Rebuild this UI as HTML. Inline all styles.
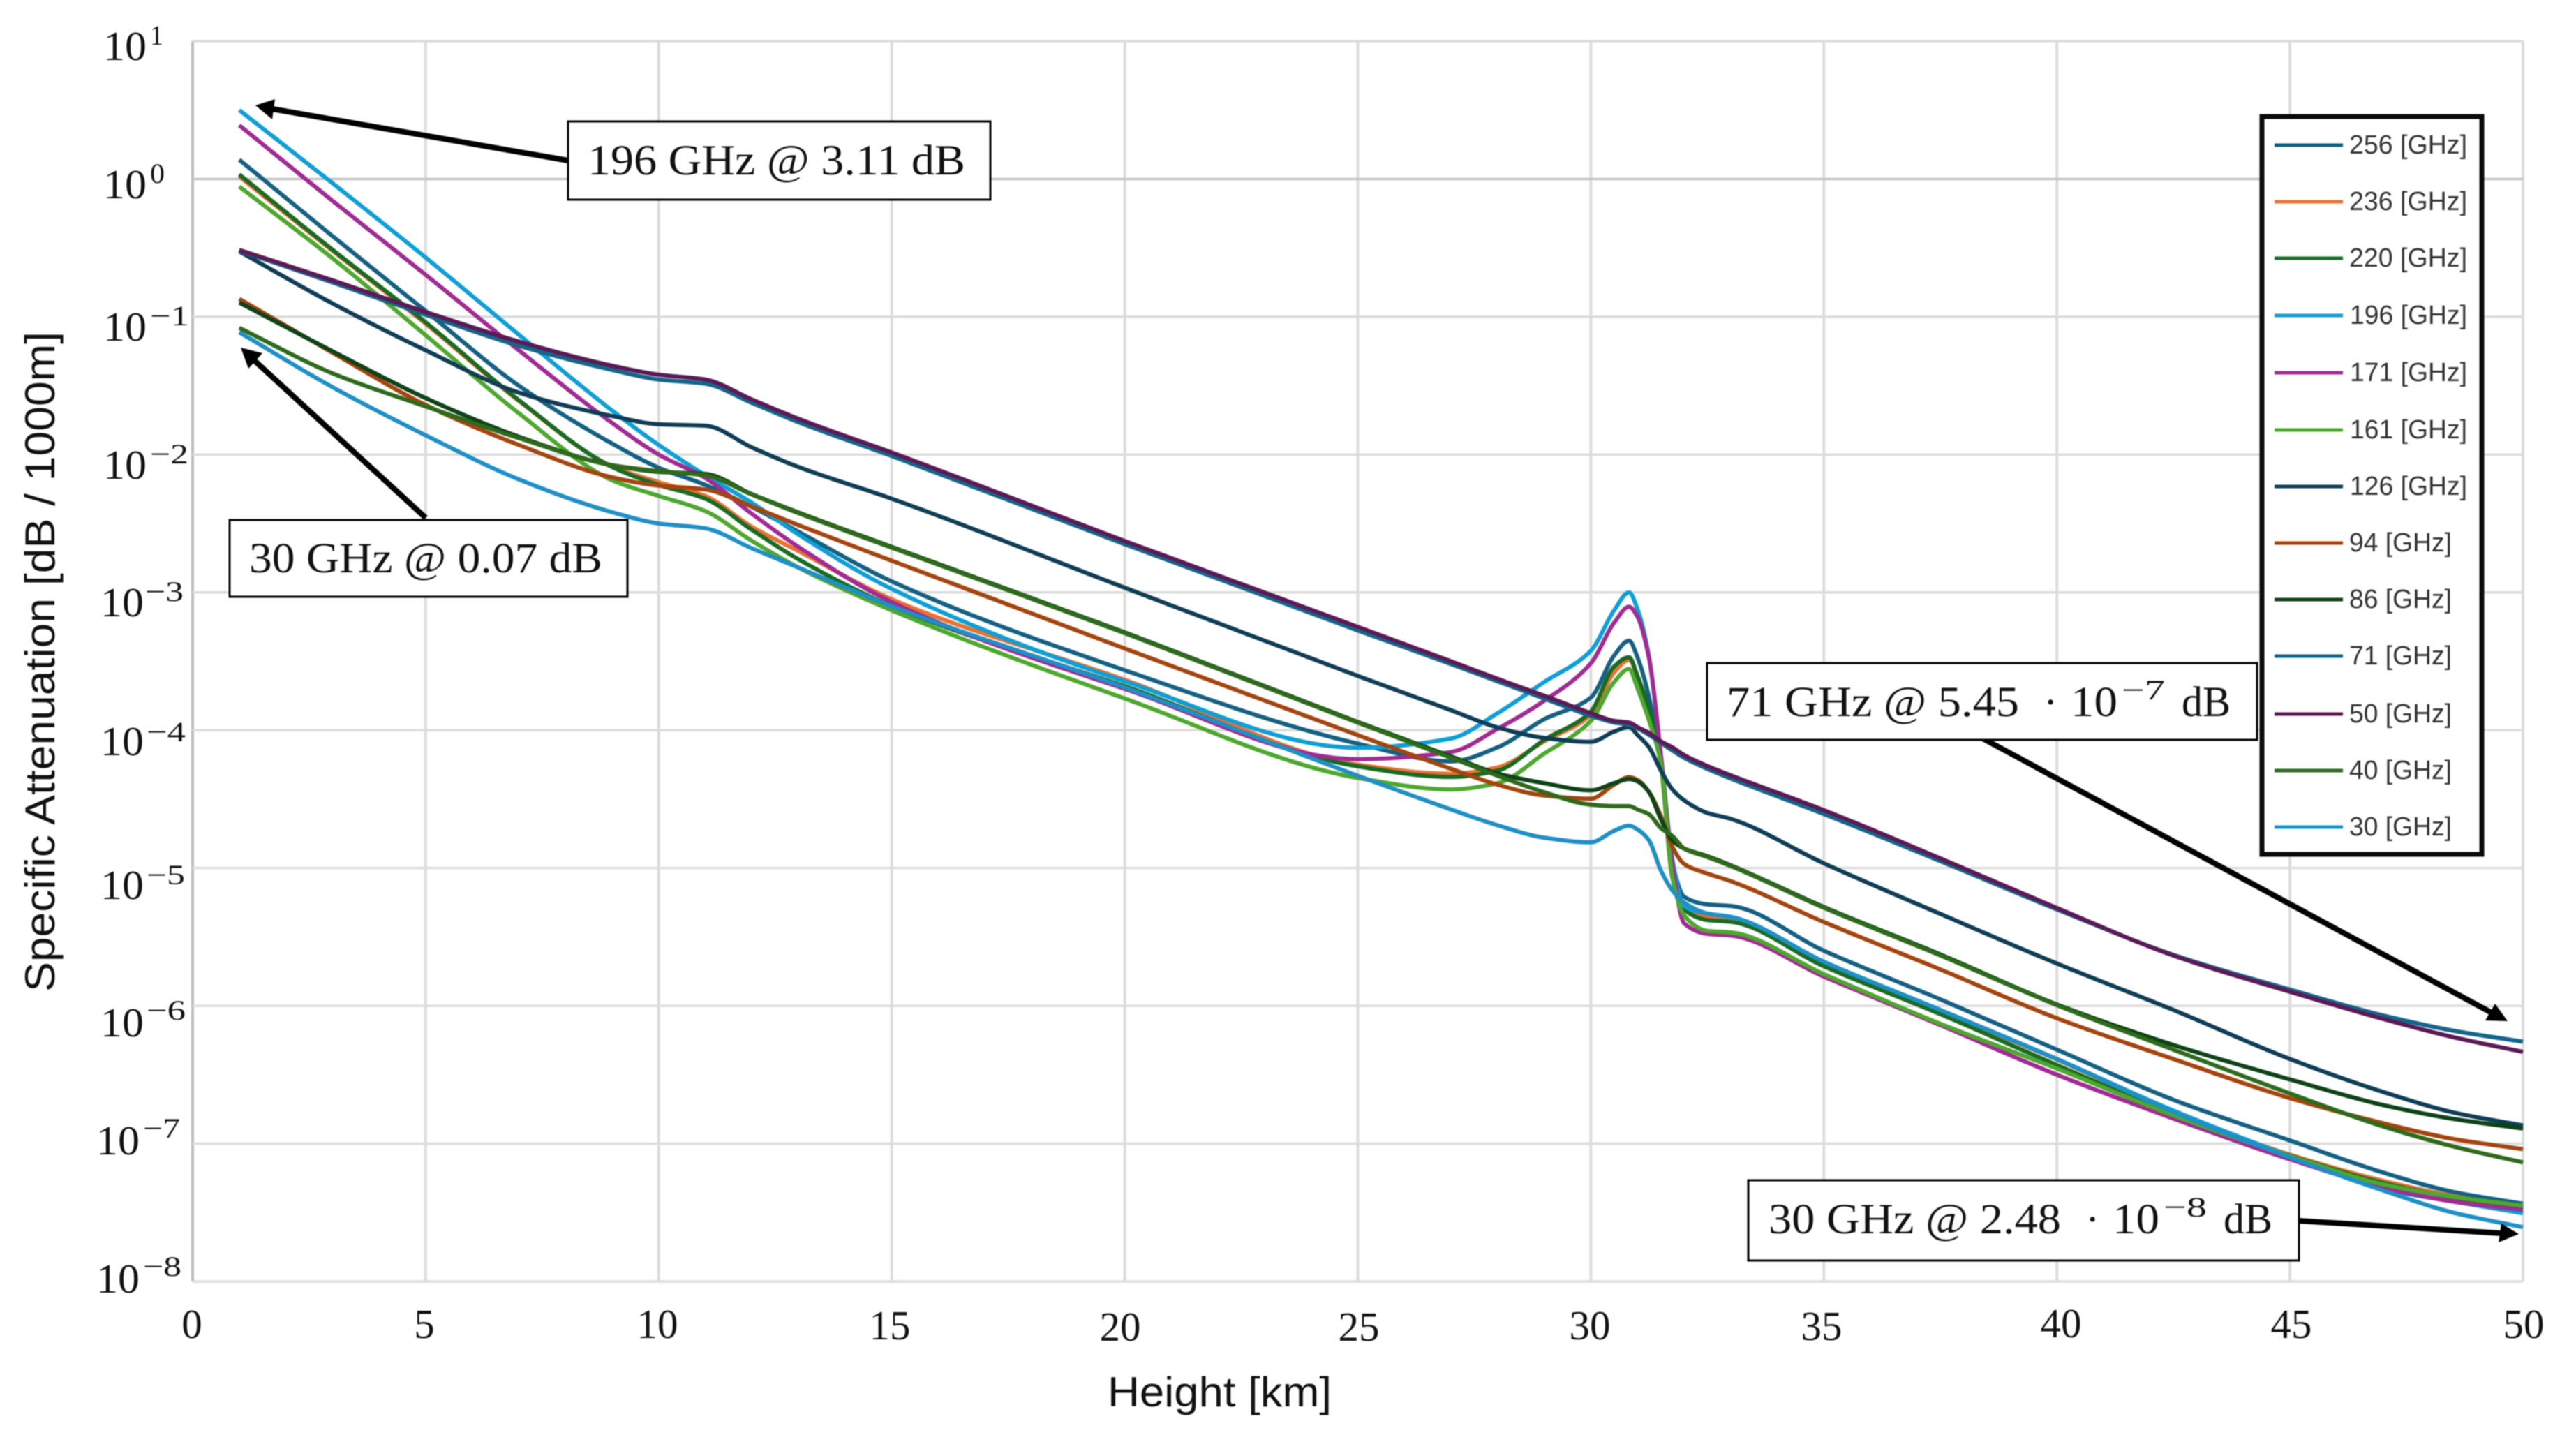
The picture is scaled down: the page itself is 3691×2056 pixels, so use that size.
<!DOCTYPE html>
<html lang="en">
<head>
<meta charset="utf-8">
<title>Specific Attenuation vs Height</title>
<style>
  html, body { margin: 0; padding: 0; background: #fff; }
  svg { display: block; filter: blur(0.8px); }
  .tick { font-family: "Liberation Serif", serif; font-size: 59px; fill: #111; }
  .sup { font-family: "Liberation Serif", serif; font-size: 40px; fill: #111; }
  .title { font-family: "Liberation Sans", sans-serif; font-size: 60px; fill: #111; }
  .note { font-family: "Liberation Serif", serif; font-size: 61px; fill: #111; }
  .note-sup { font-family: "Liberation Serif", serif; font-size: 40px; fill: #111; }
  .legend-label { font-family: "Liberation Sans", sans-serif; font-size: 38px; fill: #333; }
</style>
</head>
<body>
<svg id="chart" xmlns="http://www.w3.org/2000/svg" width="3691" height="2056" viewBox="0 0 3691 2056">
  <rect x="0" y="0" width="3691" height="2056" fill="#ffffff"/>
  <g id="grid"></g>
  <g id="series"></g>

  <!-- y axis tick labels -->
  <g>
    <text class="tick" x="148" y="86" textLength="62" lengthAdjust="spacingAndGlyphs">10</text>
    <text class="sup" x="215" y="64" textLength="19" lengthAdjust="spacingAndGlyphs">1</text>
    <text class="tick" x="148" y="284" textLength="62" lengthAdjust="spacingAndGlyphs">10</text>
    <text class="sup" x="215" y="262" textLength="21" lengthAdjust="spacingAndGlyphs">0</text>
    <text class="tick" x="148" y="488" textLength="62" lengthAdjust="spacingAndGlyphs">10</text>
    <text class="sup" x="215" y="466" textLength="56" lengthAdjust="spacingAndGlyphs">−1</text>
    <text class="tick" x="148" y="686" textLength="62" lengthAdjust="spacingAndGlyphs">10</text>
    <text class="sup" x="215" y="664" textLength="55" lengthAdjust="spacingAndGlyphs">−2</text>
    <text class="tick" x="144" y="883" textLength="62" lengthAdjust="spacingAndGlyphs">10</text>
    <text class="sup" x="208" y="861" textLength="55" lengthAdjust="spacingAndGlyphs">−3</text>
    <text class="tick" x="144" y="1082" textLength="62" lengthAdjust="spacingAndGlyphs">10</text>
    <text class="sup" x="210" y="1062" textLength="56" lengthAdjust="spacingAndGlyphs">−4</text>
    <text class="tick" x="144" y="1288" textLength="62" lengthAdjust="spacingAndGlyphs">10</text>
    <text class="sup" x="210" y="1267" textLength="55" lengthAdjust="spacingAndGlyphs">−5</text>
    <text class="tick" x="144" y="1485" textLength="62" lengthAdjust="spacingAndGlyphs">10</text>
    <text class="sup" x="210" y="1461" textLength="56" lengthAdjust="spacingAndGlyphs">−6</text>
    <text class="tick" x="138" y="1654" textLength="62" lengthAdjust="spacingAndGlyphs">10</text>
    <text class="sup" x="205" y="1630" textLength="53" lengthAdjust="spacingAndGlyphs">−7</text>
    <text class="tick" x="138" y="1852" textLength="62" lengthAdjust="spacingAndGlyphs">10</text>
    <text class="sup" x="205" y="1828" textLength="55" lengthAdjust="spacingAndGlyphs">−8</text>
  </g>

  <!-- x axis tick labels -->
  <g text-anchor="middle">
    <text class="tick" x="275" y="1917">0</text>
    <text class="tick" x="608" y="1917">5</text>
    <text class="tick" x="942" y="1917">10</text>
    <text class="tick" x="1275" y="1919">15</text>
    <text class="tick" x="1605" y="1921">20</text>
    <text class="tick" x="1947" y="1921">25</text>
    <text class="tick" x="2278" y="1919">30</text>
    <text class="tick" x="2610" y="1920">35</text>
    <text class="tick" x="2953" y="1916">40</text>
    <text class="tick" x="3283" y="1917">45</text>
    <text class="tick" x="3616" y="1917">50</text>
  </g>

  <!-- axis titles -->
  <text class="title" x="1587" y="2015" textLength="321" lengthAdjust="spacingAndGlyphs">Height [km]</text>
  <text class="title" transform="translate(78 1421) rotate(-90)" x="0" y="0" textLength="946" lengthAdjust="spacingAndGlyphs">Specific Attenuation [dB / 1000m]</text>

  <!-- annotation arrows -->
  <g>
    <line x1="814" y1="230" x2="390" y2="156" stroke="#000" stroke-width="8"/>
    <polygon points="366,151 394,142 390,171" fill="#000"/>
    <line x1="610" y1="742" x2="364" y2="516" stroke="#000" stroke-width="8"/>
    <polygon points="345,498 376,506 356,528" fill="#000"/>
    <line x1="2841" y1="1058" x2="3570" y2="1451" stroke="#000" stroke-width="8"/>
    <polygon points="3593,1463 3575,1438 3561,1462" fill="#000"/>
    <line x1="3294" y1="1749" x2="3584" y2="1767" stroke="#000" stroke-width="8"/>
    <polygon points="3609,1768 3584,1753 3580,1780" fill="#000"/>
  </g>

  <!-- annotation boxes -->
  <g>
    <rect x="814" y="174" width="605" height="112" fill="#fff" stroke="#000" stroke-width="3"/>
    <text class="note" x="842" y="250" textLength="541" lengthAdjust="spacingAndGlyphs">196 GHz @ 3.11 dB</text>
  </g>
  <g>
    <rect x="329" y="745" width="570" height="110" fill="#fff" stroke="#000" stroke-width="3"/>
    <text class="note" x="357" y="820" textLength="506" lengthAdjust="spacingAndGlyphs">30 GHz @ 0.07 dB</text>
  </g>
  <g>
    <rect x="2446" y="950" width="788" height="110" fill="#fff" stroke="#000" stroke-width="3"/>
    <text class="note" x="2474" y="1026" textLength="419" lengthAdjust="spacingAndGlyphs">71 GHz @ 5.45</text>
    <text class="note" x="2928" y="1026">·</text>
    <text class="note" x="2967" y="1026" textLength="67" lengthAdjust="spacingAndGlyphs">10</text>
    <text class="note-sup" x="3040" y="1002" textLength="62" lengthAdjust="spacingAndGlyphs">−7</text>
    <text class="note" x="3126" y="1026" textLength="70" lengthAdjust="spacingAndGlyphs">dB</text>
  </g>
  <g>
    <rect x="2505" y="1691" width="789" height="115" fill="#fff" stroke="#000" stroke-width="3"/>
    <text class="note" x="2534" y="1767" textLength="419" lengthAdjust="spacingAndGlyphs">30 GHz @ 2.48</text>
    <text class="note" x="2988" y="1767">·</text>
    <text class="note" x="3027" y="1767" textLength="67" lengthAdjust="spacingAndGlyphs">10</text>
    <text class="note-sup" x="3100" y="1743" textLength="62" lengthAdjust="spacingAndGlyphs">−8</text>
    <text class="note" x="3186" y="1767" textLength="70" lengthAdjust="spacingAndGlyphs">dB</text>
  </g>

  <!-- legend -->
  <g>
    <rect x="3241" y="167" width="315" height="1057" fill="#fff" stroke="#0a0a0a" stroke-width="7"/>
    <g><line x1="3259" x2="3357" y1="208" y2="208" stroke="#156082" stroke-width="5"/><text class="legend-label" x="3366" y="220" textLength="169" lengthAdjust="spacingAndGlyphs">256 [GHz]</text></g>
    <g><line x1="3259" x2="3357" y1="289" y2="289" stroke="#E97132" stroke-width="5"/><text class="legend-label" x="3366" y="301" textLength="169" lengthAdjust="spacingAndGlyphs">236 [GHz]</text></g>
    <g><line x1="3259" x2="3357" y1="370" y2="370" stroke="#196B24" stroke-width="5"/><text class="legend-label" x="3366" y="382" textLength="169" lengthAdjust="spacingAndGlyphs">220 [GHz]</text></g>
    <g><line x1="3259" x2="3357" y1="452" y2="452" stroke="#0F9ED5" stroke-width="5"/><text class="legend-label" x="3367" y="464" textLength="168" lengthAdjust="spacingAndGlyphs">196 [GHz]</text></g>
    <g><line x1="3259" x2="3357" y1="534" y2="534" stroke="#A02B93" stroke-width="5"/><text class="legend-label" x="3367" y="546" textLength="168" lengthAdjust="spacingAndGlyphs">171 [GHz]</text></g>
    <g><line x1="3259" x2="3357" y1="616" y2="616" stroke="#4EA72E" stroke-width="5"/><text class="legend-label" x="3367" y="628" textLength="168" lengthAdjust="spacingAndGlyphs">161 [GHz]</text></g>
    <g><line x1="3259" x2="3357" y1="697" y2="697" stroke="#0F3D56" stroke-width="5"/><text class="legend-label" x="3367" y="709" textLength="168" lengthAdjust="spacingAndGlyphs">126 [GHz]</text></g>
    <g><line x1="3259" x2="3357" y1="778" y2="778" stroke="#A3450F" stroke-width="5"/><text class="legend-label" x="3366" y="790" textLength="147" lengthAdjust="spacingAndGlyphs">94 [GHz]</text></g>
    <g><line x1="3259" x2="3357" y1="859" y2="859" stroke="#0E4217" stroke-width="5"/><text class="legend-label" x="3366" y="871" textLength="147" lengthAdjust="spacingAndGlyphs">86 [GHz]</text></g>
    <g><line x1="3259" x2="3357" y1="940" y2="940" stroke="#156489" stroke-width="5"/><text class="legend-label" x="3366" y="952" textLength="147" lengthAdjust="spacingAndGlyphs">71 [GHz]</text></g>
    <g><line x1="3259" x2="3357" y1="1023" y2="1023" stroke="#5B1A55" stroke-width="5"/><text class="legend-label" x="3366" y="1035" textLength="147" lengthAdjust="spacingAndGlyphs">50 [GHz]</text></g>
    <g><line x1="3259" x2="3357" y1="1104" y2="1104" stroke="#2E6A1B" stroke-width="5"/><text class="legend-label" x="3366" y="1116" textLength="147" lengthAdjust="spacingAndGlyphs">40 [GHz]</text></g>
    <g><line x1="3259" x2="3357" y1="1185" y2="1185" stroke="#1F8FC6" stroke-width="5"/><text class="legend-label" x="3366" y="1197" textLength="147" lengthAdjust="spacingAndGlyphs">30 [GHz]</text></g>
  </g>
</svg>

<script>
// Axis ticks
const xTicks = [0, 5, 10, 15, 20, 25, 30, 35, 40, 45, 50];
const yTickExponents = [1, 0, -1, -2, -3, -4, -5, -6, -7, -8];

// Sample heights in km
const heightKm = [1, 3, 5, 7, 9, 10, 11, 12, 13, 15, 20, 25, 27, 28, 29, 30, 30.5, 30.82, 31, 31.25, 31.5, 31.75, 32, 32.5, 33, 35, 37.5, 40, 42.5, 45, 47, 48.5, 50];

// Series values: log10 of specific attenuation in dB / 1000 m
const atten256 = [0.14, -0.414, -0.958, -1.5, -1.92, -2.095, -2.22, -2.38, -2.56, -2.92, -3.565, -4.097, -4.226, -4.124, -3.92, -3.763, -3.458, -3.35, -3.47, -3.763, -4.237, -4.96, -5.208, -5.264, -5.275, -5.6, -5.953, -6.318, -6.682, -6.977, -7.21, -7.35, -7.436];
const atten236 = [0.018, -0.52, -1.05, -1.61, -2.085, -2.2, -2.3, -2.524, -2.7, -3.05, -3.634, -4.25, -4.316, -4.27, -4.08, -3.887, -3.58, -3.49, -3.605, -3.876, -4.237, -5.05, -5.264, -5.354, -5.366, -5.69, -6.04, -6.39, -6.77, -7.08, -7.27, -7.38, -7.466];
const atten220 = [0.033, -0.513, -1.04, -1.605, -2.09, -2.22, -2.32, -2.546, -2.76, -3.1, -3.68, -4.262, -4.339, -4.293, -4.07, -3.865, -3.537, -3.47, -3.605, -3.853, -4.237, -5.07, -5.3, -5.377, -5.39, -5.713, -6.06, -6.43, -6.784, -7.086, -7.285, -7.39, -7.46];
const atten196 = [0.5, -0.03, -0.57, -1.13, -1.68, -1.93, -2.15, -2.35, -2.58, -2.975, -3.645, -4.127, -4.06, -3.876, -3.65, -3.424, -3.13, -3.0, -3.12, -3.47, -4.17, -4.937, -5.275, -5.33, -5.354, -5.68, -6.03, -6.386, -6.76, -7.09, -7.33, -7.42, -7.505];
const atten171 = [0.39, -0.158, -0.695, -1.243, -1.77, -2.0, -2.17, -2.43, -2.67, -3.07, -3.7, -4.21, -4.158, -3.99, -3.786, -3.515, -3.22, -3.104, -3.176, -3.48, -4.17, -4.97, -5.4, -5.478, -5.49, -5.788, -6.14, -6.5, -6.818, -7.114, -7.318, -7.42, -7.48];
const atten161 = [-0.055, -0.575, -1.134, -1.7, -2.186, -2.3, -2.41, -2.626, -2.82, -3.13, -3.77, -4.346, -4.43, -4.384, -4.17, -3.932, -3.65, -3.555, -3.695, -3.93, -4.237, -5.07, -5.343, -5.456, -5.467, -5.77, -6.13, -6.455, -6.795, -7.09, -7.295, -7.386, -7.45];
const atten126 = [-0.525, -0.903, -1.243, -1.55, -1.72, -1.78, -1.79, -1.948, -2.09, -2.32, -2.966, -3.606, -3.855, -3.98, -4.056, -4.084, -4.01, -3.977, -4.034, -4.124, -4.29, -4.43, -4.508, -4.6, -4.643, -4.966, -5.333, -5.693, -6.03, -6.386, -6.625, -6.773, -6.868];
const atten94 = [-0.87, -1.26, -1.64, -1.93, -2.165, -2.225, -2.253, -2.377, -2.512, -2.77, -3.407, -4.036, -4.28, -4.395, -4.474, -4.497, -4.395, -4.34, -4.36, -4.45, -4.62, -4.846, -4.97, -5.04, -5.095, -5.392, -5.736, -6.09, -6.386, -6.67, -6.852, -6.966, -7.04];
const atten86 = [-0.897, -1.25, -1.59, -1.87, -2.077, -2.125, -2.14, -2.287, -2.42, -2.67, -3.29, -3.94, -4.19, -4.314, -4.384, -4.436, -4.384, -4.354, -4.37, -4.45, -4.643, -4.8, -4.858, -4.914, -4.98, -5.283, -5.627, -5.99, -6.284, -6.534, -6.72, -6.82, -6.89];
const atten71 = [-0.52, -0.75, -0.985, -1.21, -1.385, -1.455, -1.485, -1.625, -1.765, -2.01, -2.65, -3.276, -3.52, -3.645, -3.77, -3.895, -3.944, -3.96, -3.985, -4.034, -4.09, -4.147, -4.2, -4.28, -4.35, -4.608, -4.95, -5.3, -5.63, -5.882, -6.07, -6.18, -6.26];
const atten50 = [-0.515, -0.735, -0.965, -1.18, -1.355, -1.42, -1.455, -1.6, -1.74, -1.985, -2.627, -3.25, -3.5, -3.627, -3.75, -3.876, -3.932, -3.944, -3.977, -4.02, -4.08, -4.124, -4.18, -4.26, -4.327, -4.58, -4.93, -5.29, -5.635, -5.898, -6.095, -6.227, -6.334];
const atten40 = [-1.08, -1.41, -1.65, -1.88, -2.077, -2.12, -2.15, -2.29, -2.425, -2.675, -3.295, -3.945, -4.2, -4.33, -4.45, -4.54, -4.55, -4.55, -4.575, -4.61, -4.71, -4.767, -4.858, -4.92, -4.985, -5.288, -5.634, -5.995, -6.318, -6.636, -6.875, -7.02, -7.136];
const atten30 = [-1.112, -1.51, -1.86, -2.18, -2.418, -2.5, -2.535, -2.68, -2.82, -3.1, -3.69, -4.33, -4.575, -4.69, -4.78, -4.813, -4.73, -4.693, -4.72, -4.8, -5.016, -5.163, -5.25, -5.33, -5.354, -5.68, -6.03, -6.386, -6.77, -7.1, -7.34, -7.5, -7.606];

const seriesNames = ['256', '236', '220', '196', '171', '161', '126', '94', '86', '71', '50', '40', '30'];
const seriesValues = [atten256, atten236, atten220, atten196, atten171, atten161, atten126, atten94, atten86, atten71, atten50, atten40, atten30];
const seriesColors = ['#156082', '#E97132', '#196B24', '#0F9ED5', '#A02B93', '#4EA72E', '#0F3D56', '#A3450F', '#0E4217', '#156489', '#5B1A55', '#2E6A1B', '#1F8FC6'];

const SVG_NS = 'http://www.w3.org/2000/svg';
const plot = { left: 276, right: 3615, top: 59, bottom: 1836 };
const xDomain = [0, 50];
const yDomain = [1, -8];

function xScale(km) {
  return plot.left + (km - xDomain[0]) / (xDomain[1] - xDomain[0]) * (plot.right - plot.left);
}
function yScale(logValue) {
  return plot.top + (logValue - yDomain[0]) / (yDomain[1] - yDomain[0]) * (plot.bottom - plot.top);
}

// Monotone cubic path through the points, so sharp features do not overshoot
function monotonePath(xs, ys) {
  const n = xs.length;
  const slopes = [];
  for (let i = 0; i < n - 1; i++) {
    slopes.push((ys[i + 1] - ys[i]) / (xs[i + 1] - xs[i]));
  }
  const tangents = [slopes[0]];
  for (let i = 1; i < n - 1; i++) {
    if (slopes[i - 1] * slopes[i] <= 0) {
      tangents.push(0);
    } else {
      const h0 = xs[i] - xs[i - 1];
      const h1 = xs[i + 1] - xs[i];
      const w0 = 2 * h1 + h0;
      const w1 = h1 + 2 * h0;
      tangents.push((w0 + w1) / (w0 / slopes[i - 1] + w1 / slopes[i]));
    }
  }
  tangents.push(slopes[n - 2]);
  let d = 'M' + xs[0].toFixed(2) + ' ' + ys[0].toFixed(2);
  for (let i = 0; i < n - 1; i++) {
    const h = (xs[i + 1] - xs[i]) / 3;
    d += 'C' + (xs[i] + h).toFixed(2) + ' ' + (ys[i] + tangents[i] * h).toFixed(2) + ' ' +
      (xs[i + 1] - h).toFixed(2) + ' ' + (ys[i + 1] - tangents[i + 1] * h).toFixed(2) + ' ' +
      xs[i + 1].toFixed(2) + ' ' + ys[i + 1].toFixed(2);
  }
  return d;
}

const gridGroup = document.getElementById('grid');
xTicks.forEach(function (tick) {
  const line = document.createElementNS(SVG_NS, 'line');
  
  
  line.setAttribute('x1', xScale(tick));
  line.setAttribute('x2', xScale(tick));
  line.setAttribute('y1', plot.top);
  line.setAttribute('y2', plot.bottom);
  line.setAttribute('stroke', tick === 0 ? '#BDBDBD' : '#DCDCDC');
  line.setAttribute('stroke-width', '4');
  gridGroup.appendChild(line);
});
yTickExponents.forEach(function (tick) {
  const line = document.createElementNS(SVG_NS, 'line');
  
  
  line.setAttribute('x1', plot.left);
  line.setAttribute('x2', plot.right);
  line.setAttribute('y1', yScale(tick));
  line.setAttribute('y2', yScale(tick));
  line.setAttribute('stroke', tick === 0 ? '#C4C4C4' : '#DCDCDC');
  line.setAttribute('stroke-width', '3.5');
  gridGroup.appendChild(line);
});

const seriesGroup = document.getElementById('series');
seriesValues.forEach(function (values, index) {
  const path = document.createElementNS(SVG_NS, 'path');
  
  
  path.setAttribute('d', monotonePath(heightKm.map(xScale), values.map(yScale)));
  path.setAttribute('fill', 'none');
  path.setAttribute('stroke', seriesColors[index]);
  path.setAttribute('stroke-width', '6');
  path.setAttribute('stroke-linejoin', 'round');
  seriesGroup.appendChild(path);
});
</script>
</body>
</html>
